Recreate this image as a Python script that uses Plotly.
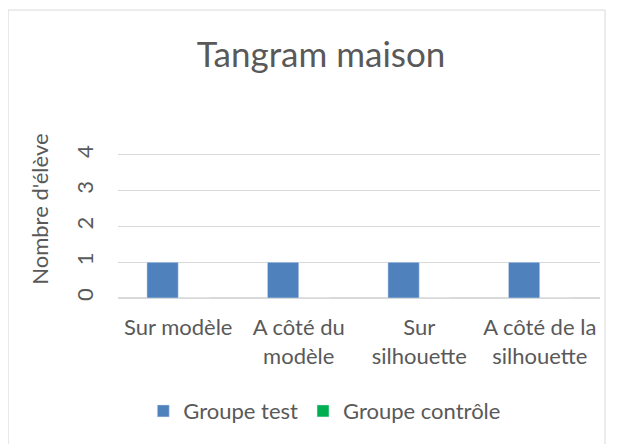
import plotly.graph_objects as go

categories = ["Sur modèle", "A côté du<br>modèle", "Sur<br>silhouette", "A côté de la<br>silhouette"]
groupe_test = [1, 1, 1, 1]
groupe_controle = [0, 0, 0, 0]

font = "Lato, Calibri, sans-serif"
grey = "#595959"

fig = go.Figure()
fig.add_trace(go.Bar(x=categories, y=groupe_test, name="Groupe test", marker_color="#4f81bd"))
fig.add_trace(go.Bar(x=categories, y=groupe_controle, name="Groupe contrôle", marker_color="#00b050"))

# chart border (Excel style frame)
fig.add_shape(type="rect", xref="paper", yref="paper",
              x0=-0.228, x1=1.0104, y0=-1.2, y1=1.986,
              line=dict(color="#d9d9d9", width=1), layer="below")

# y axis title, placed like Excel does (a bit above the plot centre)
fig.add_annotation(text="Nombre d'élève", xref="paper", yref="y", x=-0.162, y=2.49,
                   xanchor="center", yanchor="middle", textangle=-90, showarrow=False,
                   font=dict(size=22, color=grey, family=font))

fig.update_layout(
    width=614, height=436,
    margin=dict(l=110, r=22, t=145, b=146),
    paper_bgcolor="white", plot_bgcolor="white",
    font=dict(family=font, color=grey, size=22),
    title=dict(text="Tangram maison", x=0.51, xanchor="center",
               y=1 - 47 / 436, yanchor="middle",
               font=dict(size=35, color=grey, family=font)),
    barmode="group", bargap=0.48, bargroupgap=0,
    showlegend=True,
    legend=dict(orientation="h", x=0.429, xanchor="center", y=-0.78, yanchor="middle",
                font=dict(size=22, color=grey), itemwidth=30, traceorder="normal"),
    xaxis=dict(showgrid=False, showline=False, ticks="", tickfont=dict(size=22, color=grey),
               ticklabelstandoff=14),
    yaxis=dict(range=[0, 4.05], tickvals=[0, 1, 2, 3, 4], showgrid=True, gridcolor="#d9d9d9",
               gridwidth=1, zeroline=True, zerolinecolor="#d9d9d9", showline=False, ticks="",
               tickangle=-90, tickfont=dict(size=22, color=grey), ticklabelstandoff=20),
)

fig.write_html("out.html")
